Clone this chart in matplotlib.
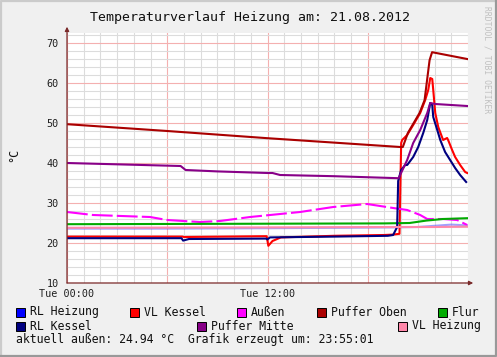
import matplotlib.pyplot as plt
from matplotlib.lines import Line2D
from matplotlib.patches import Rectangle

# hours since 00:00, temperatures in °C
rl_heizung_t = [0, 6, 12, 16, 19.5, 21, 22, 23, 23.95]
rl_heizung_v = [23.6, 23.6, 23.7, 23.8, 23.9, 24.0, 24.3, 24.6, 24.4]

vl_kessel_t = [0, 6.9, 7.0, 11.95, 12.05, 12.3, 12.8, 16, 19.0, 19.5, 19.9, 20.0,
               20.06, 20.36, 20.72, 21.14, 21.44, 21.62, 21.74, 21.86, 21.92,
               22.04, 22.22, 22.51, 22.75, 22.81, 23.05, 23.23, 23.53, 23.83, 23.95]
vl_kessel_v = [21.6, 21.6, 21.5, 21.7, 19.3, 20.5, 21.4, 21.8, 22.0, 22.1, 22.3, 45.0,
               45.75, 47.0, 49.5, 52.5, 55.75, 58.25, 61.25, 61.0, 58.25,
               52.5, 49.0, 45.75, 46.25, 45.75, 43.25, 41.5, 39.5, 37.75, 37.5]

aussen_t = [0, 1.56, 4.97, 5.99, 7.96, 9.16, 10.96, 13.95, 15.93, 17.96, 19.52,
            20.36, 21.14, 21.56, 22.51, 23.35, 23.71, 23.95]
aussen_v = [27.75, 27.0, 26.5, 25.75, 25.25, 25.5, 26.5, 27.75, 29.0, 29.75, 28.75,
            28.25, 27.0, 26.0, 26.0, 25.75, 25.0, 24.5]

puffer_oben_t = [0, 6, 12, 19.94, 20.1, 20.4, 21.1, 21.4, 21.55, 21.7, 21.85, 23.95]
puffer_oben_v = [49.7, 48.0, 46.2, 44.0, 44.0, 47.5, 52.5, 55.7, 60.7, 65.7, 67.7, 66.0]

flur_t = [0, 10, 19, 20.5, 21.5, 22.5, 23.95]
flur_v = [24.7, 24.8, 24.9, 25.0, 25.6, 26.0, 26.2]

rl_kessel_t = [0, 6.85, 6.95, 7.3, 11.9, 12.0, 12.15, 16, 19.2, 19.52, 19.76, 19.82,
               20.0, 20.24, 20.36, 20.72, 21.02, 21.32, 21.56, 21.74, 21.86, 21.92,
               22.16, 22.34, 22.63, 22.93, 23.23, 23.53, 23.89]
rl_kessel_v = [21.2, 21.2, 20.6, 21.0, 21.1, 20.9, 21.4, 21.6, 21.8, 22.0, 24.0, 35.5,
               38.25, 39.5, 39.5, 41.5, 44.0, 47.5, 50.75, 55.0, 54.5, 51.5,
               48.25, 45.75, 42.75, 40.75, 38.75, 37.0, 35.25]

puffer_mitte_t = [0, 6.8, 7.1, 9, 12, 12.3, 12.75, 16, 19.85, 20.36, 20.72, 21.14,
                  21.56, 21.74, 22.04, 23.95]
puffer_mitte_v = [40.0, 39.25, 38.25, 37.9, 37.5, 37.5, 37.0, 36.7, 36.2, 40.75, 45.0,
                  48.25, 52.5, 55.0, 54.75, 54.25]

vl_heizung_t = [0, 12, 19.5, 22, 23.95]
vl_heizung_v = [23.8, 23.9, 24.0, 24.0, 24.1]

W, H = 497, 357
fig = plt.figure(figsize=(W / 100, H / 100), dpi=100, facecolor="#f0f0f0")


def fx(px):
    return px / W


def fy(py):
    return 1 - py / H


ax = fig.add_axes([fx(67), fy(283), 401 / W, 250 / H])
ax.set_facecolor("white")
ax.set_xlim(0, 24)
ax.set_ylim(10, 72.5)

# grid
ax.set_xticks([0, 6, 12, 18])
ax.set_xticklabels(["Tue 00:00", "", "Tue 12:00", ""])
ax.set_xticks(range(0, 25), minor=True)
ax.set_yticks(range(10, 71, 10))
ax.set_yticks(range(10, 73, 2), minor=True)
ax.grid(which="minor", color="#dcdcdc", lw=0.8)
ax.grid(which="major", color="#f4b0b0", lw=0.8)
ax.set_axisbelow(True)
ax.tick_params(which="both", length=0)
ax.tick_params(axis="y", pad=6, labelsize=7.3, labelcolor="#202020")
ax.tick_params(axis="x", pad=4, labelsize=7.3, labelcolor="#202020")
for lab in ax.get_xticklabels() + ax.get_yticklabels():
    lab.set_family("DejaVu Sans Mono")
for s in ax.spines.values():
    s.set_visible(False)

lw = 1.5
ax.plot(rl_heizung_t, rl_heizung_v, color="#6060ff", lw=lw, alpha=0.6)
ax.plot(vl_kessel_t, vl_kessel_v, color="#ff0000", lw=lw)
ax.plot(aussen_t, aussen_v, color="#ff00ff", lw=lw, dashes=(10, 2))
ax.plot(puffer_oben_t, puffer_oben_v, color="#aa0000", lw=lw)
ax.plot(flur_t, flur_v, color="#00aa00", lw=lw)
ax.plot(rl_kessel_t, rl_kessel_v, color="#000080", lw=lw)
ax.plot(puffer_mitte_t, puffer_mitte_v, color="#880088", lw=lw)
ax.plot(vl_heizung_t, vl_heizung_v, color="#ff88aa", lw=lw)

# axes with arrows
axis_col = "#7a2a2a"
ax.annotate("", xy=(0, 1.025), xytext=(0, 0), xycoords="axes fraction",
            arrowprops=dict(arrowstyle="-|>", color=axis_col, lw=0.9, mutation_scale=6,
                            shrinkA=0, shrinkB=0))
ax.annotate("", xy=(1.013, 0), xytext=(0, 0), xycoords="axes fraction",
            arrowprops=dict(arrowstyle="-|>", color=axis_col, lw=0.9, mutation_scale=6,
                            shrinkA=0, shrinkB=0))

mono = "DejaVu Sans Mono"
fig.text(fx(250), fy(17), "Temperaturverlauf Heizung am: 21.08.2012", ha="center",
         va="center", family=mono, fontsize=9.5, color="#101010")
fig.text(fx(14), fy(155), "°C", ha="center", va="center", rotation=90,
         family=mono, fontsize=8.5, color="#101010")
fig.text(fx(487), fy(6), "RRDTOOL / TOBI OETIKER", ha="center", va="top", rotation=270,
         family=mono, fontsize=5.8, color="#c0c0c0")

# legend
legend = [
    ("RL Heizung", "#0000ff", 16, 312), ("VL Kessel", "#ff0000", 130, 312),
    ("Außen", "#ff00ff", 237, 312), ("Puffer Oben", "#aa0000", 317, 312),
    ("Flur", "#00aa00", 438, 312),
    ("RL Kessel", "#000080", 16, 326), ("Puffer Mitte", "#880088", 197, 326),
    ("VL Heizung", "#ff88aa", 398, 326),
]
for name, col, x, y in legend:
    fig.add_artist(Rectangle((fx(x), fy(y + 4.5)), 9 / W, 9 / H, facecolor=col,
                             edgecolor="black", lw=0.7, transform=fig.transFigure))
    fig.text(fx(x + 14), fy(y), name, ha="left", va="center", family=mono,
             fontsize=8.3, color="#101010")
fig.text(fx(16), fy(339), "aktuell außen: 24.94 °C  Grafik erzeugt um: 23:55:01",
         ha="left", va="center", family=mono, fontsize=8.3, color="#101010")

# shaded frame
fig.add_artist(Line2D([fx(1), fx(1), fx(496)], [fy(356), fy(1), fy(1)], color="#cbcbcb",
                      lw=1.6, transform=fig.transFigure))
fig.add_artist(Line2D([fx(1), fx(496), fx(496)], [fy(356), fy(356), fy(1)], color="#999999",
                      lw=1.6, transform=fig.transFigure))

fig.savefig("out.png", dpi=100, facecolor=fig.get_facecolor())
